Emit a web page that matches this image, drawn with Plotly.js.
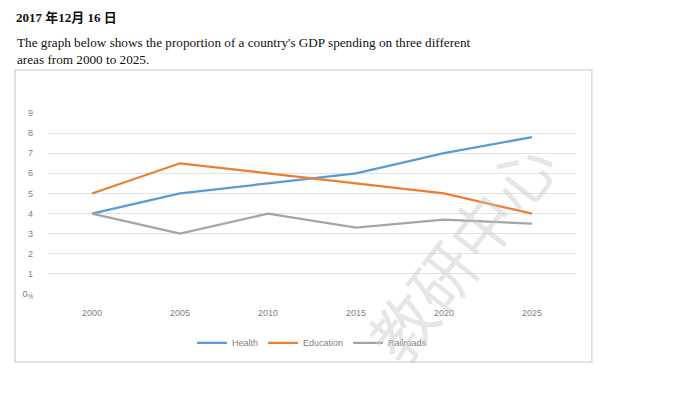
<!DOCTYPE html>
<html><head><meta charset="utf-8">
<script src="https://cdn.plot.ly/plotly-3.0.1.min.js"></script>
<style>html,body{margin:0;padding:0;background:#fff}#chart{width:683px;height:399px}</style>
</head><body><div id="chart"></div>
<script>
const years = ['2000','2005','2010','2015','2020','2025'];
const health = [4, 5, 5.5, 6, 7, 7.8];
const education = [5, 6.5, 6, 5.5, 5, 4];
const railroads = [4, 3, 4, 3.3, 3.7, 3.5];
const yTickVals = [0,1,2,3,4,5,6,7,8,9];
const yTickText = ['0<sub>%</sub>','1','2','3','4','5','6','7','8','9'];
const seriesNames = ['Health','Education','Railroads'];
const colors = ['#5b9bd5','#ed7d31','#a5a5a5'];

const traces = [health, education, railroads].map((v,i)=>({
  x: years, y: v, type:'scatter', mode:'lines', name: seriesNames[i],
  line:{color:colors[i], width:2.25}
}));

const layout = {
  width:683, height:399,
  margin:{l:48, r:107, t:113, b:105},
  paper_bgcolor:'#fff', plot_bgcolor:'#fff',
  showlegend:true,
  legend:{orientation:'h', x:0.5, xanchor:'center', y:-0.27, yanchor:'middle',
    font:{family:'Liberation Sans, Arial', size:9, color:'#7f7f7f'}, itemwidth:30, tracegroupgap:0},
  xaxis:{type:'category', showgrid:false, zeroline:false, showline:false, ticks:'', ticklabelstandoff:12,
    tickfont:{family:'Liberation Sans, Arial', size:9, color:'#7f7f7f'}, range:[-0.5,5.5]},
  yaxis:{range:[0,9], tickvals:yTickVals, ticktext:yTickText, showgrid:true, gridcolor:'#e3e3e3',
    gridwidth:1, zeroline:false, showline:false, ticks:'', ticklabelstandoff:14,
    tickfont:{family:'Liberation Sans, Arial', size:9, color:'#7f7f7f'}},
  shapes:[{type:'rect', xref:'paper', yref:'paper', x0:-0.0625, x1:1.030, y0:-0.3757, y1:1.2376,
    line:{color:'#d9d9d9', width:1.5}, fillcolor:'rgba(0,0,0,0)', layer:'below'}],
  annotations:[
    {xref:'paper', yref:'paper', x:(14-48)/528, y:(294-18)/181, xanchor:'left', yanchor:'middle', showarrow:false,
     text:'<b>2017 年12月 16 日</b>', font:{family:'Liberation Serif, Noto Sans CJK SC', size:13, color:'#111'}},
    {xref:'paper', yref:'paper', x:(15-48)/528, y:(294-42)/181, xanchor:'left', yanchor:'middle', showarrow:false,
     text:"The graph below shows the proportion of a country's GDP spending on three different", font:{family:'Liberation Serif', size:13.2, color:'#111'}},
    {xref:'paper', yref:'paper', x:(15-48)/528, y:(294-59)/181, xanchor:'left', yanchor:'middle', showarrow:false,
     text:'areas from 2000 to 2025.', font:{family:'Liberation Serif', size:13.2, color:'#111'}},
    {xref:'paper', yref:'paper', x:(460-48)/528, y:(294-250)/181, xanchor:'center', yanchor:'middle', showarrow:false,
     text:'教研中心', textangle:-52, font:{family:'Noto Sans CJK SC', size:64, color:'rgba(200,200,200,0.45)'}}
  ]
};
Plotly.newPlot('chart', traces, layout, {displayModeBar:false, staticPlot:true});
</script></body></html>
